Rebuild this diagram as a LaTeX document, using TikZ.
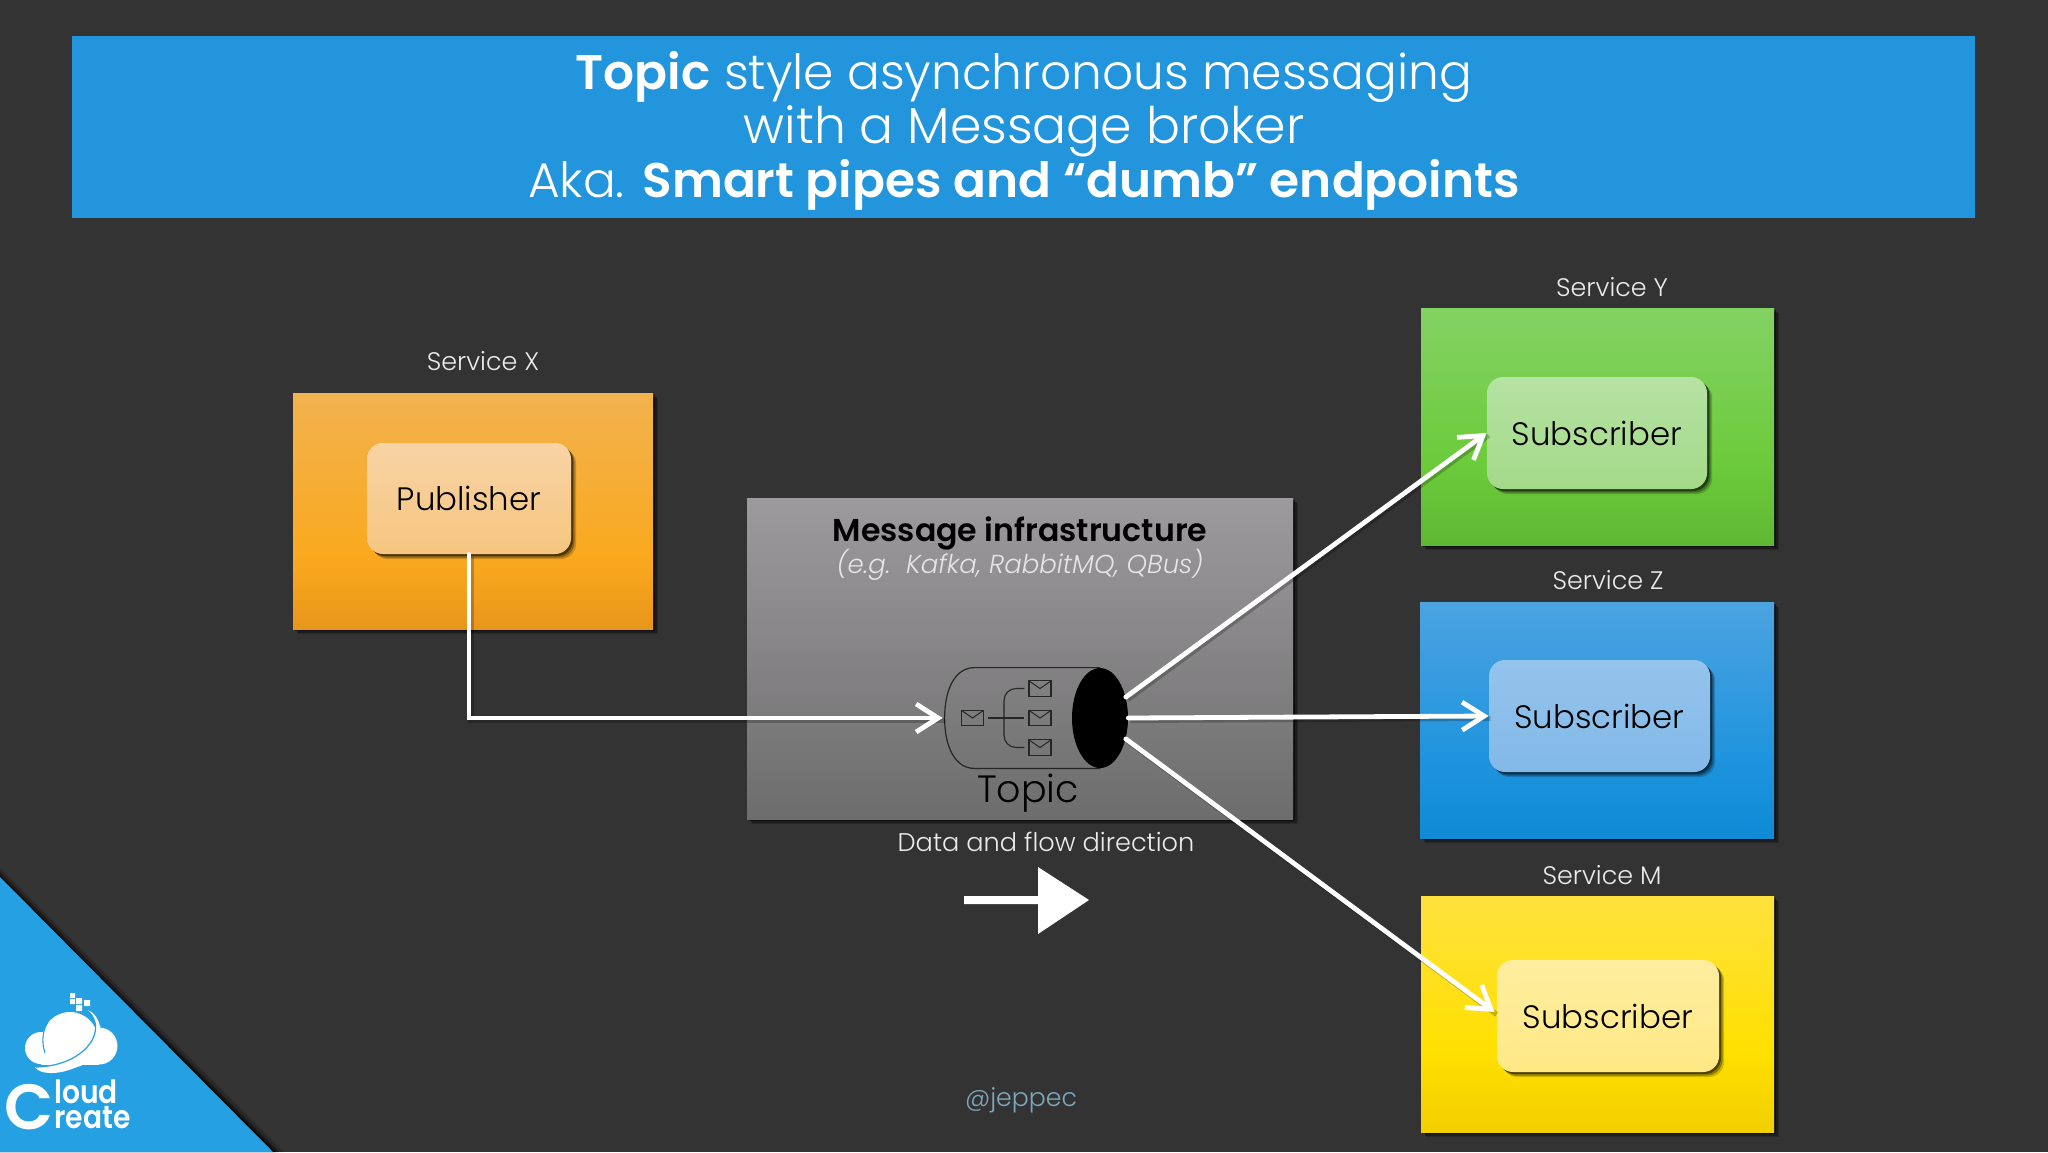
\documentclass[tikz,border=0pt]{standalone}
\usepackage{fontspec}
\setmainfont{Poppins}[UprightFont={* Light},ItalicFont={* Light Italic},BoldFont={* SemiBold}]
\usetikzlibrary{arrows.meta,shadows,shapes.geometric,calc}
\definecolor{bgc}{HTML}{343334}
\definecolor{hdr}{HTML}{2295DC}
\definecolor{tri}{HTML}{25A0E2}
\definecolor{oa}{HTML}{F2B24F}\definecolor{ob}{HTML}{FAA91E}\definecolor{oc}{HTML}{E8961A}
\definecolor{ga}{HTML}{83D264}\definecolor{gb}{HTML}{6CCB3B}\definecolor{gc}{HTML}{5FB833}
\definecolor{ba}{HTML}{4CA3E0}\definecolor{bb}{HTML}{1F94DE}\definecolor{bc}{HTML}{0F8AD4}
\definecolor{ya}{HTML}{FFE13E}\definecolor{yb}{HTML}{FFE000}\definecolor{yc}{HTML}{F2CF00}
\pgfdeclareverticalshading{orangefade}{100bp}{color(0bp)=(oc);color(25bp)=(oc);color(40bp)=(ob);color(75bp)=(oa);color(100bp)=(oa)}
\pgfdeclareverticalshading{greenfade}{100bp}{color(0bp)=(gc);color(25bp)=(gc);color(42bp)=(gb);color(75bp)=(ga);color(100bp)=(ga)}
\pgfdeclareverticalshading{bluefade}{100bp}{color(0bp)=(bc);color(25bp)=(bc);color(42bp)=(bb);color(75bp)=(ba);color(100bp)=(ba)}
\pgfdeclareverticalshading{yellowfade}{100bp}{color(0bp)=(yc);color(25bp)=(yc);color(42bp)=(yb);color(75bp)=(ya);color(100bp)=(ya)}
\tikzset{
  softshadow/.style={
    general shadow={shadow xshift=2.6pt,shadow yshift=-2.6pt,fill=black,opacity=.18},
    general shadow={shadow xshift=1.8pt,shadow yshift=-1.8pt,fill=black,opacity=.3},
    general shadow={shadow xshift=1pt,shadow yshift=-1pt,fill=black,opacity=.45}},
  svcbox/.style={rectangle,inner sep=0pt,softshadow},
  role/.style={rectangle,rounded corners=8pt,inner sep=0pt,text=black,font=\fontsize{16.2}{18}\selectfont,softshadow},
  svclabel/.style={text=white!92!black,font=\fontsize{12.7}{14}\selectfont,inner sep=0pt},
  flow/.style={draw=white,line width=2.4pt,line cap=round,line join=miter,
    -{Straight Barb[length=11pt,width=14pt,line width=2.4pt]},
    preaction={draw=black,opacity=.22,line width=2.6pt,-,transform canvas={shift={(1pt,-1.2pt)}}}},
  envelope/.style={draw=black!85,line width=.55pt,rectangle,inner sep=0pt,minimum width=11pt,minimum height=7.6pt,
    path picture={\draw[black!85,line width=.5pt] (path picture bounding box.north west)--(path picture bounding box.center)--(path picture bounding box.north east);}},
  thin line/.style={draw=black!85,line width=.55pt},
  logotext/.style={text=white,inner sep=0pt},
}
\begin{document}
\begin{tikzpicture}[x=0.5pt,y=-0.5pt]
\useasboundingbox (0,0) rectangle (2048,1152);
\fill[bgc] (0,0) rectangle (2048,1152);
% corner triangle
\fill[black,opacity=.2] (0,868) -- (284,1152) -- (0,1152) -- cycle;
\fill[black,opacity=.35] (0,872) -- (279,1152) -- (0,1152) -- cycle;
\fill[black,opacity=.6] (0,875) -- (276,1152) -- (0,1152) -- cycle;
\fill[tri] (0,877) -- (273,1152) -- (0,1152) -- cycle;
% logo
\fill[white] (70,1040) circle [radius=28];
\fill[white] (41,1048) circle [radius=16];
\fill[white] (99,1046) circle [radius=18.5];
\fill[white] (41,1040) rectangle (99,1064.5);
\fill[white] (35,1067) .. controls (45,1083) and (108,1066) .. (101,1030)
  .. controls (99,1020) and (95,1013) .. (88,1010)
  .. controls (108,1030) and (85,1065) .. (35,1067) -- cycle;
\draw[tri,line width=.55pt] (45,1053) .. controls (41,1040) and (43,1030) .. (48,1022);
\draw[tri,line width=.6pt] (88,1011) .. controls (109,1030) and (85,1066) .. (36,1067);
\fill[white] (70,993) rectangle +(5,5) (70,999) rectangle +(5,5) (76,998) rectangle +(6,6)
  (84,1000) rectangle +(6,6) (76,1005) rectangle +(6,6);
\node[logotext,font=\bfseries\fontsize{32}{32}\selectfont] (logoc) at (29,1107) {C};
\node[logotext,anchor=base west,font=\bfseries\fontsize{16}{16}\selectfont] (logol) at (54,1103) {\scalebox{.88}[1]{loud}};
\node[logotext,anchor=base west,font=\bfseries\fontsize{16}{16}\selectfont] (logor) at (54,1128) {\scalebox{.88}[1]{reate}};
% header
\node[rectangle,fill=hdr,inner sep=0pt,minimum width=951.5pt,minimum height=91pt] (header) at (1023.5,127) {};
\node[inner sep=0pt,text=white,align=center,font=\fontsize{24.3}{27}\selectfont] (headertext) at (1024,131)
  {\textbf{Topic} style asynchronous messaging\\{\fontsize{25.2}{27}\selectfont with a Message broker}\\Aka. \textbf{Smart pipes and “dumb” endpoints}};
% service boxes
\node[svcbox,minimum width=180pt,minimum height=118pt,shading=orangefade] (svcx) at (473,511) {};
\node[svcbox,minimum width=176.5pt,minimum height=118.5pt,shading=greenfade] (svcy) at (1597.5,426.5) {};
\node[svcbox,minimum width=177pt,minimum height=118pt,shading=bluefade] (svcz) at (1597,720) {};
\node[svcbox,minimum width=176.5pt,minimum height=118pt,shading=yellowfade] (svcm) at (1597.5,1014) {};
% labels
\node[svclabel] (lblx) at (483,361) {Service X};
\node[svclabel] (lbly) at (1612,287) {Service Y};
\node[svclabel] (lblz) at (1608,580) {Service Z};
\node[svclabel] (lblm) at (1602,875) {Service M};
% inner role boxes
\node[role,minimum width=102pt,minimum height=55.5pt,top color={rgb,255:red,248;green,211;blue,165},bottom color={rgb,255:red,246;green,198;blue,128}] (pub) at (469,498.5) {Publisher};
\node[role,minimum width=110pt,minimum height=56pt,top color={rgb,255:red,182;green,226;blue,163},bottom color={rgb,255:red,163;green,218;blue,137}] (suby) at (1597,433) {Subscriber};
\node[role,minimum width=110.5pt,minimum height=56pt,top color={rgb,255:red,148;green,196;blue,236},bottom color={rgb,255:red,131;green,185;blue,232}] (subz) at (1599.5,716) {Subscriber};
\node[role,minimum width=111pt,minimum height=56pt,top color={rgb,255:red,255;green,237;blue,160},bottom color={rgb,255:red,255;green,233;blue,133}] (subm) at (1608,1016) {Subscriber};
% infrastructure
\node[svcbox,minimum width=273pt,minimum height=160.5pt,top color={rgb,255:red,156;green,154;blue,156},bottom color={rgb,255:red,110;green,109;blue,110}] (infra) at (1020,658.5) {};
\node[inner sep=0pt,text=black,font=\bfseries\fontsize{15.8}{18}\selectfont] (infratitle) at (1020,533) {Message infrastructure};
\node[inner sep=0pt,text=white!90!black,font=\itshape\fontsize{13}{15}\selectfont] (infrasub) at (1020,565) {(e.g.\ \ Kafka, RabbitMQ, QBus)};
% topic cylinder
\node[rectangle,inner sep=0pt,minimum width=77.5pt,minimum height=50pt] (cyl) at (1022.5,718) {};
\draw[black!85,line width=.6pt] (cyl.north east) -- ($(cyl.north west)+(30,0)$) .. controls ($(cyl.north west)+(10,0)$) and ($(cyl.west)+(0,-28)$) .. (cyl.west)
  .. controls ($(cyl.west)+(0,28)$) and ($(cyl.south west)+(10,0)$) .. ($(cyl.south west)+(30,0)$) -- (cyl.south east);
\node[ellipse,fill=black,inner sep=0pt,minimum width=28pt,minimum height=50pt] (end) at (1100,718) {};
\node[envelope] (envin) at (972.5,718) {};
\node[envelope] (enva) at (1040,688.5) {};
\node[envelope] (envb) at (1040,718) {};
\node[envelope] (envc) at (1040,747.5) {};
\draw[thin line] ($(envin.east)+(4,0)$) -- ($(envb.west)+(-4,0)$);
\draw[thin line,rounded corners=6pt] ($(enva.west)+(-4,0)$) -- (1004,688.5) -- (1004,747.5) -- ($(envc.west)+(-4,0)$);
\node[inner sep=0pt,text=black,font=\fontsize{19}{22}\selectfont] (topic) at (1028,793) {Topic};
% flow arrows
\draw[flow] (pub.south) -- (pub.south |- cyl.west) -- ($(cyl.west)+(-2,0)$);
\draw[flow] (end.39) -- (suby.west);
\draw[flow] (end.east) -- (subz.west);
\draw[flow] (end.-39) -- ($(subm.west)+(-2,-4)$);
% legend
\node[inner sep=0pt,text=white!92!black,font=\fontsize{12.8}{15}\selectfont] (legend) at (1046,842) {Data and flow direction};
\fill[white] (964,896) -- (1038,896) -- (1038,867) -- (1089,900) -- (1038,934) -- (1038,904) -- (964,904) -- cycle;
\node[inner sep=0pt,text={rgb,255:red,125;green,168;blue,190},font=\fontsize{12.6}{15}\selectfont] (handle) at (1021,1100) {@jeppec};
\end{tikzpicture}
\end{document}
